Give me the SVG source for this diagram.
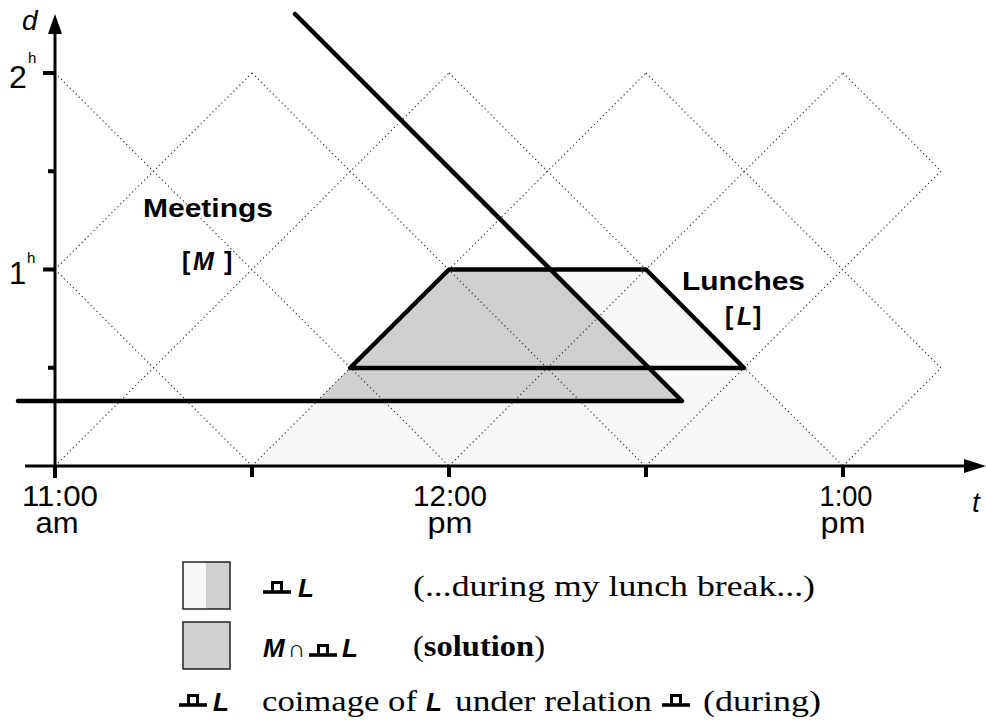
<svg xmlns="http://www.w3.org/2000/svg" xmlns:xlink="http://www.w3.org/1999/xlink" width="986" height="720" viewBox="0 0 986 720">
<style>
.grid{fill:none;stroke:#333;stroke-width:1.2;stroke-dasharray:1.2 3}
.thick{fill:none;stroke:#000;stroke-width:4.5;stroke-linejoin:round;stroke-linecap:round}
.axis{fill:none;stroke:#000;stroke-width:3}
.tick{fill:none;stroke:#000;stroke-width:4}
.sans{font-family:"Liberation Sans",Arial,sans-serif;fill:#000}
.bold{font-weight:bold}
.ital{font-style:italic}
.serif{font-family:"Liberation Serif","Times New Roman",serif;fill:#000;font-size:30px}
.lbox{stroke:#222;stroke-width:1.5}
.light{fill:#f8f8f8}
.dark{fill:#d0d0d0}
</style>
<defs>
<g id="during">
<path d="M0,0 H28" stroke="#000" stroke-width="3.6" fill="none"/>
<path d="M9.5,0 V-9.5 H18.5 V0" stroke="#000" stroke-width="3" fill="none"/>
</g>
</defs>
<rect width="986" height="720" fill="#fff"/>
<g id="regions">
<polygon class="light" points="252,466 449,269.5 646,269.5 843,466"/>
<polygon class="dark" points="317,401 350,368 449,269.5 550.5,269.5 682,401"/>
</g>
<g id="grid">
<path class="grid" d="M55,73 L449,466 M55,269.5 L252,466 M252,73 L645,466 M449,73 L843,466 M646,73 L941,368 M843,73 L941,171"/>
<path class="grid" d="M55,466 L449,73 M55,269.5 L252,73 M252,466 L646,73 M449,466 L843,73 M646,466 L941,171 M843,466 L941,368"/>
</g>
<g id="connectors">
<path id="meetings-bound" class="thick" d="M295,14 L682,401 L18,401"/>
<polygon id="lunches-bound" class="thick" points="350,368 449,269.5 646,269.5 744,368"/>
</g>
<g id="axes">
<line class="axis" x1="55" y1="478" x2="55" y2="30"/>
<polygon points="55,14 48,34 62,34" fill="#000"/>
<line class="axis" x1="25" y1="466" x2="968" y2="466"/>
<polygon points="986,466 964,459 964,473" fill="#000"/>
<path class="tick" d="M43,73 H55 M48,171.25 H55 M43,269.5 H55 M48,367.75 H55"/>
<path class="tick" d="M55,466 V478 M252,466 V477 M449,466 V477 M646,466 V477 M843,466 V477"/>
</g>
<g id="axis-labels" class="sans">
<text x="22" y="30" font-size="28" class="ital">d</text>
<text x="972" y="512" font-size="28" class="ital">t</text>
<text x="9" y="88" font-size="32">2</text>
<text x="28" y="63" font-size="15">h</text>
<text x="9" y="284" font-size="31">1</text>
<text x="27" y="263" font-size="15">h</text>
<g font-size="30" text-anchor="middle">
<text x="60" y="506" textLength="76" lengthAdjust="spacingAndGlyphs">11:00</text>
<text x="57" y="533" textLength="43" lengthAdjust="spacingAndGlyphs">am</text>
<text x="450" y="506" textLength="74" lengthAdjust="spacingAndGlyphs">12:00</text>
<text x="450" y="533" textLength="45" lengthAdjust="spacingAndGlyphs">pm</text>
<text x="846" y="506" textLength="53" lengthAdjust="spacingAndGlyphs">1:00</text>
<text x="843" y="533" textLength="45" lengthAdjust="spacingAndGlyphs">pm</text>
</g>
</g>
<g id="meetings-label" class="sans bold" font-size="25">
<text x="143" y="217" textLength="130" lengthAdjust="spacingAndGlyphs">Meetings</text>
<text x="182" y="270">[</text>
<text x="193" y="270" class="ital">M</text>
<text x="224" y="270">]</text>
</g>
<g id="lunches-label" class="sans bold" font-size="25">
<text x="682" y="290" textLength="123" lengthAdjust="spacingAndGlyphs">Lunches</text>
<text x="725" y="325">[</text>
<text x="737" y="325" class="ital">L</text>
<text x="753" y="325">]</text>
</g>
<g id="legend">
<g id="legend-coimage">
<rect x="183" y="562" width="23" height="47" class="light"/>
<rect x="206" y="562" width="24" height="47" class="dark"/>
<rect x="183" y="562" width="47" height="47" fill="none" class="lbox"/>
<use xlink:href="#during" x="263" y="592"/>
<text x="298" y="597" class="sans bold ital" font-size="26">L</text>
<text x="413" y="596" class="serif" textLength="402" lengthAdjust="spacingAndGlyphs">(...during my lunch break...)</text>
</g>
<g id="legend-solution">
<rect x="183" y="622" width="47" height="47" class="dark lbox"/>
<text x="263" y="657" class="sans bold ital" font-size="26">M</text>
<text x="288" y="657" class="sans" font-size="24">∩</text>
<use xlink:href="#during" x="309" y="655"/>
<text x="342" y="657" class="sans bold ital" font-size="26">L</text>
<text x="413" y="656" class="serif" textLength="132" lengthAdjust="spacingAndGlyphs">(<tspan font-weight="bold">solution</tspan>)</text>
</g>
<g id="legend-during">
<use xlink:href="#during" x="179" y="705"/>
<text x="213" y="711" class="sans bold ital" font-size="26">L</text>
<text x="262" y="711" class="serif" textLength="155" lengthAdjust="spacingAndGlyphs">coimage of</text>
<text x="426" y="711" class="sans bold ital" font-size="26">L</text>
<text x="455" y="711" class="serif" textLength="197" lengthAdjust="spacingAndGlyphs">under relation</text>
<use xlink:href="#during" x="662" y="705"/>
<text x="703" y="711" class="serif" textLength="118" lengthAdjust="spacingAndGlyphs">(during)</text>
</g>
</g>
</svg>
